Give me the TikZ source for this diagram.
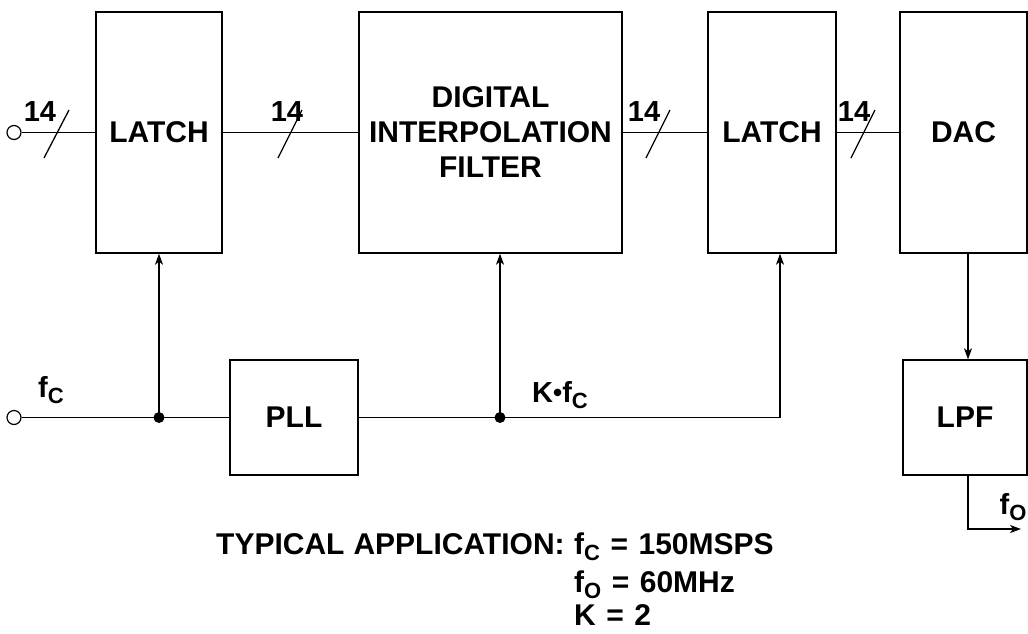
\documentclass[tikz,border=0pt]{standalone}
\usepackage{fontspec}
\setmainfont{Liberation Sans}
\usetikzlibrary{arrows.meta}
\newcommand\subsc[1]{\raisebox{-6pt}{\fontsize{22}{22}\selectfont #1}}
\begin{document}
\begin{tikzpicture}[x=1pt,y=-1pt,
  blk/.style={draw,line width=1.4pt,inner sep=0pt,align=center,
    font=\fontsize{30}{35}\selectfont\bfseries},
  lbl/.style={inner sep=0pt,font=\fontsize{29}{32}\selectfont\bfseries},
  note/.style={inner sep=0pt,font=\fontsize{30}{32}\selectfont\bfseries},
  wire/.style={line width=1.3pt},
  arr/.style={wire,-{Stealth[length=11pt,width=8pt,inset=3pt]}},
  port/.style={draw,circle,line width=1.2pt,minimum size=14pt,inner sep=0pt,fill=white},
  dotn/.style={circle,fill=black,minimum size=11pt,inner sep=0pt}]
\useasboundingbox (0,0) rectangle (1028,633);
% blocks
\node[blk,minimum width=126pt,minimum height=241pt] (latchA) at (159,132.5) {LATCH};
\node[blk,minimum width=263pt,minimum height=241pt] (dif) at (490.5,132.5) {DIGITAL\\INTERPOLATION\\FILTER};
\node[blk,minimum width=128pt,minimum height=241pt] (latchB) at (772,132.5) {LATCH};
\node[blk,minimum width=127pt,minimum height=241pt] (dac) at (963.5,132.5) {DAC};
\node[blk,minimum width=128pt,minimum height=115pt] (pll) at (294,417.5) {PLL};
\node[blk,minimum width=124pt,minimum height=115pt] (lpf) at (965,417.5) {LPF};
% ports
\node[port] (inA) at (14,132.5) {};
\node[port] (inC) at (14,417.5) {};
% buses
\draw[wire] (inA) -- (latchA);
\draw[wire] (latchA) -- (dif);
\draw[wire] (dif) -- (latchB);
\draw[wire] (latchB) -- (dac);
\draw[wire] (44,158) -- (69,110);
\draw[wire] (278,158) -- (302,110);
\draw[wire] (646,158) -- (670,110);
\draw[wire] (851,158) -- (875,110);
\node[lbl] (n1) at (40,112) {14};
\node[lbl] (n2) at (287,112) {14};
\node[lbl] (n3) at (644,112) {14};
\node[lbl] (n4) at (854,112) {14};
% clock
\coordinate (j1) at (159,417.5);
\coordinate (j2) at (500,417.5);
\coordinate (c3) at (780,417.5);
\draw[wire] (inC) -- (pll);
\draw[wire] (pll) -- (c3);
\draw[arr] (j1) -- (latchA.south);
\draw[arr] (j2) -- (j2 |- dif.south);
\draw[arr] (c3) -- (c3 |- latchB.south);
\node[dotn] at (j1) {};
\node[dotn] at (j2) {};
\node[lbl] (fc) at (51,390) {f\subsc{C}};
\node[lbl,anchor=west] (kfc) at (532,395) {K\raisebox{1pt}{\fontsize{26}{26}\selectfont•}f\subsc{C}};
% output
\coordinate (d1) at (968,253);
\coordinate (o1) at (968,529);
\coordinate (o2) at (1021,529);
\draw[arr] (d1) -- (d1 |- lpf.north);
\draw[arr] (o1 |- lpf.south) -- (o1) -- (o2);
\node[lbl] (fo) at (1013,507) {f\subsc{O}};
% note
\node[note,anchor=base west] (t1) at (216,554) {TYPICAL\hspace{0.3em}APPLICATION:};
\node[note,anchor=base west] (t2) at (574,554) {f\subsc{C}\hspace{0.35em}=\hspace{0.35em}150MSPS};
\node[note,anchor=base west] (t3) at (574,592) {f\subsc{O}\hspace{0.35em}=\hspace{0.35em}60MHz};
\node[note,anchor=base west] (t4) at (574,625) {K\hspace{0.35em}=\hspace{0.35em}2};
\end{tikzpicture}
\end{document}
